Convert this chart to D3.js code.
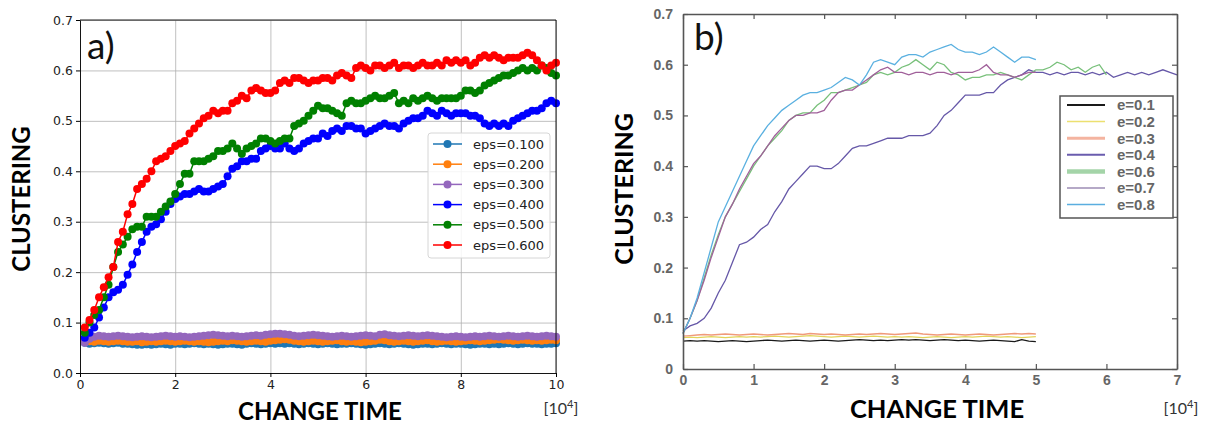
<!DOCTYPE html>
<html lang="en">
<head>
<meta charset="UTF-8">
<title>Clustering vs change time</title>
<script src="https://cdn.jsdelivr.net/npm/d3@7"></script>
<style>
    body { margin: 0; background: #fff; }
    svg { display: block; }
</style>
</head>
<body>
<script>

    // ---- panel a) data, sampled every 0.1 (x in units of 10^4) ----
    var epsLabels = ["eps=0.100", "eps=0.200", "eps=0.300", "eps=0.400", "eps=0.500", "eps=0.600"];
    var epsColors = ["#1f77b4", "#ff7f0e", "#9467bd", "#0000ff", "#008000", "#ff0000"];

    var eps1 = [0.060,0.058,0.059,0.060,0.059,0.058,0.059,0.060,0.058,0.058,
        0.057,0.056,0.056,0.057,0.056,0.057,0.058,0.057,0.056,0.058,
        0.058,0.057,0.058,0.059,0.058,0.057,0.058,0.057,0.056,0.057,
        0.058,0.058,0.057,0.056,0.058,0.059,0.058,0.057,0.058,0.059,
        0.058,0.059,0.058,0.059,0.058,0.057,0.058,0.059,0.058,0.057,
        0.058,0.059,0.058,0.057,0.058,0.058,0.059,0.058,0.057,0.056,
        0.057,0.058,0.059,0.058,0.057,0.058,0.059,0.058,0.057,0.056,
        0.057,0.058,0.058,0.057,0.058,0.059,0.058,0.057,0.058,0.058,
        0.057,0.056,0.057,0.058,0.058,0.057,0.058,0.057,0.058,0.059,
        0.058,0.057,0.058,0.059,0.058,0.058,0.057,0.058,0.058,0.059];
    var eps2 = [0.062,0.063,0.062,0.064,0.063,0.062,0.063,0.064,0.063,0.062,
        0.062,0.063,0.061,0.062,0.063,0.062,0.063,0.064,0.063,0.062,
        0.063,0.064,0.063,0.062,0.063,0.062,0.061,0.062,0.063,0.064,
        0.063,0.065,0.064,0.063,0.062,0.063,0.064,0.063,0.062,0.064,
        0.065,0.066,0.067,0.066,0.064,0.063,0.062,0.063,0.064,0.063,
        0.062,0.063,0.064,0.065,0.063,0.062,0.063,0.062,0.061,0.062,
        0.063,0.064,0.066,0.065,0.063,0.062,0.063,0.064,0.063,0.062,
        0.063,0.064,0.065,0.063,0.062,0.063,0.064,0.063,0.062,0.063,
        0.064,0.065,0.064,0.063,0.064,0.065,0.066,0.067,0.066,0.065,
        0.064,0.065,0.066,0.065,0.064,0.065,0.064,0.065,0.066,0.065];
    var eps3 = [0.060,0.068,0.072,0.074,0.073,0.072,0.073,0.074,0.073,0.072,
        0.071,0.072,0.073,0.072,0.071,0.072,0.073,0.074,0.073,0.072,
        0.073,0.072,0.071,0.072,0.073,0.074,0.075,0.076,0.075,0.074,
        0.073,0.074,0.073,0.072,0.073,0.074,0.075,0.074,0.076,0.077,
        0.078,0.078,0.077,0.076,0.074,0.073,0.074,0.075,0.076,0.075,
        0.074,0.073,0.072,0.073,0.074,0.073,0.072,0.073,0.074,0.075,
        0.074,0.073,0.076,0.077,0.075,0.074,0.073,0.074,0.075,0.074,
        0.073,0.074,0.075,0.074,0.073,0.072,0.071,0.072,0.073,0.072,
        0.071,0.072,0.073,0.072,0.073,0.074,0.073,0.072,0.073,0.074,
        0.073,0.072,0.073,0.074,0.073,0.072,0.073,0.074,0.073,0.072];
    var eps4 = [0.07,0.08,0.09,0.11,0.13,0.15,0.16,0.165,0.175,0.195,
        0.215,0.24,0.26,0.28,0.29,0.295,0.305,0.32,0.335,0.345,
        0.35,0.355,0.355,0.36,0.365,0.36,0.36,0.365,0.37,0.375,
        0.39,0.405,0.41,0.42,0.42,0.425,0.425,0.44,0.445,0.45,
        0.445,0.445,0.455,0.445,0.44,0.445,0.455,0.46,0.465,0.465,
        0.475,0.47,0.48,0.485,0.48,0.49,0.49,0.485,0.485,0.475,
        0.48,0.485,0.49,0.495,0.49,0.49,0.485,0.495,0.50,0.505,
        0.505,0.51,0.52,0.515,0.51,0.52,0.515,0.51,0.515,0.515,
        0.515,0.51,0.51,0.505,0.495,0.49,0.495,0.49,0.495,0.49,
        0.50,0.505,0.51,0.515,0.52,0.52,0.525,0.535,0.54,0.535];
    var eps5 = [0.08,0.10,0.115,0.125,0.15,0.175,0.21,0.24,0.255,0.27,
        0.285,0.29,0.29,0.31,0.31,0.31,0.32,0.33,0.34,0.355,
        0.375,0.395,0.395,0.42,0.42,0.42,0.425,0.43,0.44,0.44,
        0.445,0.455,0.445,0.435,0.445,0.45,0.455,0.465,0.465,0.46,
        0.455,0.46,0.465,0.465,0.49,0.495,0.50,0.51,0.52,0.53,
        0.525,0.525,0.52,0.515,0.51,0.535,0.54,0.535,0.535,0.54,
        0.545,0.55,0.545,0.545,0.55,0.555,0.535,0.54,0.535,0.545,
        0.54,0.545,0.55,0.545,0.54,0.545,0.545,0.545,0.545,0.55,
        0.56,0.56,0.555,0.56,0.57,0.575,0.58,0.585,0.59,0.59,
        0.595,0.60,0.605,0.60,0.605,0.60,0.61,0.605,0.595,0.59];
    var eps6 = [0.09,0.105,0.125,0.15,0.17,0.19,0.21,0.26,0.28,0.315,
        0.335,0.365,0.375,0.385,0.40,0.42,0.425,0.43,0.44,0.45,
        0.455,0.46,0.475,0.485,0.495,0.505,0.51,0.52,0.515,0.52,
        0.52,0.535,0.54,0.55,0.545,0.56,0.565,0.56,0.555,0.555,
        0.56,0.575,0.58,0.575,0.585,0.585,0.58,0.575,0.58,0.58,
        0.585,0.585,0.58,0.59,0.595,0.59,0.585,0.605,0.61,0.605,
        0.60,0.61,0.61,0.605,0.61,0.615,0.605,0.61,0.61,0.605,
        0.61,0.615,0.61,0.61,0.615,0.61,0.62,0.615,0.62,0.615,
        0.62,0.61,0.615,0.625,0.63,0.625,0.63,0.625,0.62,0.625,
        0.625,0.625,0.63,0.635,0.63,0.62,0.61,0.60,0.61,0.615];

    // ---- panel b) data, sampled every 0.1 from 0 ----
    var eLabels = ["e=0.1", "e=0.2", "e=0.3", "e=0.4", "e=0.6", "e=0.7", "e=0.8"];
    var eColors = ["#1a1a1a", "#e2d45a", "#f09a7a", "#6658a8", "#78c07a", "#a0609a", "#5ab0e0"];
    var eLegendColors = ["#1a1a1a", "#ece070", "#f4b4a0", "#6a5cae", "#a4d4a8", "#9c8cb4", "#5aaee0"];
    var eLegendWidths = [2, 1.5, 3, 2, 4.5, 1.5, 1.5];

    var e1 = [0.055,0.056,0.055,0.056,0.055,0.054,0.055,0.056,0.055,0.054,
        0.055,0.056,0.057,0.056,0.055,0.056,0.057,0.056,0.055,0.056,
        0.057,0.056,0.055,0.056,0.057,0.058,0.057,0.056,0.057,0.056,
        0.057,0.058,0.057,0.058,0.057,0.056,0.057,0.058,0.057,0.056,
        0.057,0.056,0.055,0.056,0.057,0.056,0.055,0.054,0.058,0.055,
        0.054];
    var e2 = [0.062,0.063,0.062,0.063,0.064,0.063,0.062,0.063,0.064,0.063,
        0.064,0.063,0.064,0.065,0.064,0.063,0.064,0.065,0.066,0.065,
        0.064,0.063,0.064,0.065,0.064,0.063,0.064,0.065,0.064,0.063,
        0.064,0.063,0.064,0.063,0.062,0.063,0.064,0.063,0.062,0.063,
        0.064,0.063,0.064,0.065,0.064,0.063,0.064,0.063,0.062,0.063,
        0.064];
    var e3 = [0.065,0.066,0.067,0.068,0.067,0.068,0.069,0.068,0.067,0.068,
        0.069,0.068,0.067,0.068,0.069,0.070,0.069,0.068,0.070,0.069,
        0.068,0.069,0.068,0.067,0.068,0.069,0.068,0.069,0.070,0.069,
        0.068,0.069,0.070,0.071,0.069,0.068,0.067,0.068,0.069,0.068,
        0.067,0.068,0.069,0.068,0.067,0.068,0.069,0.070,0.069,0.070,
        0.069];
    var e4 = [0.075,0.085,0.09,0.10,0.12,0.15,0.175,0.21,0.245,0.25,
        0.26,0.275,0.285,0.31,0.33,0.355,0.37,0.385,0.40,0.40,
        0.395,0.395,0.405,0.42,0.435,0.44,0.44,0.445,0.45,0.455,
        0.455,0.455,0.46,0.46,0.46,0.465,0.48,0.50,0.51,0.525,
        0.54,0.54,0.54,0.545,0.545,0.56,0.57,0.575,0.58,0.59,
        0.585,0.585,0.58,0.585,0.58,0.585,0.585,0.58,0.585,0.58,
        0.585,0.575,0.58,0.585,0.58,0.585,0.58,0.585,0.59,0.585,
        0.58];
    var e6 = [0.07,0.10,0.135,0.18,0.225,0.265,0.30,0.325,0.35,0.375,
        0.40,0.42,0.44,0.455,0.47,0.49,0.50,0.505,0.505,0.52,
        0.53,0.545,0.545,0.55,0.555,0.56,0.565,0.58,0.585,0.58,
        0.585,0.595,0.60,0.61,0.60,0.59,0.605,0.60,0.585,0.58,
        0.57,0.575,0.575,0.58,0.58,0.585,0.58,0.575,0.57,0.58,
        0.59,0.59,0.595,0.605,0.60,0.59,0.595,0.585,0.595,0.60,
        0.58];
    var e7 = [0.07,0.10,0.135,0.175,0.22,0.26,0.30,0.325,0.355,0.38,
        0.405,0.42,0.44,0.46,0.475,0.49,0.50,0.50,0.505,0.505,
        0.51,0.53,0.545,0.55,0.55,0.56,0.57,0.58,0.59,0.595,
        0.585,0.585,0.58,0.585,0.585,0.58,0.585,0.585,0.58,0.585,
        0.585,0.585,0.59,0.60,0.585,0.58,0.58,0.575,0.58,0.585,
        0.585];
    var e8 = [0.07,0.10,0.14,0.19,0.24,0.29,0.32,0.35,0.38,0.41,
        0.44,0.46,0.48,0.495,0.51,0.52,0.53,0.54,0.545,0.545,
        0.55,0.555,0.565,0.575,0.57,0.56,0.58,0.605,0.61,0.605,
        0.60,0.615,0.62,0.62,0.615,0.625,0.63,0.635,0.64,0.63,
        0.625,0.625,0.62,0.625,0.635,0.625,0.615,0.605,0.615,0.615,
        0.61];

    var yTicks = [0, 0.1, 0.2, 0.3, 0.4, 0.5, 0.6, 0.7];
    var xTicksA = [0, 2, 4, 6, 8, 10];
    var xTicksB = [0, 1, 2, 3, 4, 5, 6, 7];

    var svg = d3.select("body").append("svg")
            .attr("width", 1205)
            .attr("height", 424);

    //=================== panel a) (matplotlib look) ===================
    var xA = d3.scaleLinear().domain([0, 10]).range([80, 556]);
    var yA = d3.scaleLinear().domain([0, 0.7]).range([373, 20]);

    var gA = svg.append("g");

    // grid
    gA.append("g")
            .attr("transform", "translate(0,373)")
            .call(d3.axisBottom(xA).tickValues(xTicksA).tickSize(-353).tickFormat(""))
            .call(function (g) { g.select(".domain").remove(); })
            .selectAll("line").attr("stroke", "#b0b0b0").attr("stroke-width", 0.8);
    gA.append("g")
            .attr("transform", "translate(80,0)")
            .call(d3.axisLeft(yA).tickValues(yTicks).tickSize(-476).tickFormat(""))
            .call(function (g) { g.select(".domain").remove(); })
            .selectAll("line").attr("stroke", "#b0b0b0").attr("stroke-width", 0.8);

    var lineA = d3.line()
            .x(function (d, i) { return xA((i + 1) / 10); })
            .y(function (d) { return yA(d); });

    var seriesA = [eps1, eps2, eps3, eps4, eps5, eps6];
    seriesA.forEach(function (s, k) {
        var g = gA.append("g");
        g.append("path")
                .attr("d", lineA(s))
                .attr("fill", "none")
                .attr("stroke", epsColors[k])
                .attr("stroke-width", 1.5);
        g.selectAll("circle")
                .data(s)
                .enter()
                .append("circle")
                .attr("cx", function (d, i) { return xA((i + 1) / 10); })
                .attr("cy", function (d) { return yA(d); })
                .attr("r", 4)
                .attr("fill", epsColors[k]);
    });

    // spines + ticks
    var axA = gA.append("g")
            .attr("transform", "translate(0,373)")
            .call(d3.axisBottom(xA).tickValues(xTicksA).tickSize(4).tickSizeOuter(0).tickPadding(3));
    var ayA = gA.append("g")
            .attr("transform", "translate(80,0)")
            .call(d3.axisLeft(yA).tickValues(yTicks).tickSize(4).tickSizeOuter(0).tickPadding(3)
                    .tickFormat(d3.format(".1f")));
    gA.append("line").attr("x1", 80).attr("x2", 556).attr("y1", 20).attr("y2", 20)
            .attr("stroke", "#000").attr("stroke-width", 0.9);
    gA.append("line").attr("x1", 556).attr("x2", 556).attr("y1", 20).attr("y2", 373)
            .attr("stroke", "#000").attr("stroke-width", 0.9);
    [axA, ayA].forEach(function (a) {
        a.selectAll("text")
                .attr("font-family", "DejaVu Sans")
                .attr("font-size", 12.5)
                .attr("fill", "#222");
        a.select(".domain").attr("stroke-width", 0.9);
    });

    // legend
    var legA = gA.append("g").attr("transform", "translate(428,133)");
    legA.append("rect")
            .attr("width", 122).attr("height", 125)
            .attr("rx", 3)
            .attr("fill", "#fff").attr("fill-opacity", 0.85)
            .attr("stroke", "#d6d6d6");
    epsLabels.forEach(function (lab, k) {
        var row = legA.append("g").attr("transform", "translate(0," + (11 + k * 20.2) + ")");
        row.append("line").attr("x1", 5).attr("x2", 34)
                .attr("stroke", epsColors[k]).attr("stroke-width", 1.5);
        row.append("circle").attr("cx", 19.5).attr("r", 4).attr("fill", epsColors[k]);
        row.append("text").attr("x", 45).attr("y", 0).attr("dy", "0.36em")
                .attr("font-family", "DejaVu Sans").attr("font-size", 13).attr("fill", "#222")
                .text(lab);
    });

    gA.append("text").attr("x", 87).attr("y", 59)
            .attr("font-family", "Lato").attr("font-size", 37).attr("fill", "#111")
            .text("a)");

    //=================== panel b) (MATLAB look) ===================
    var xB = d3.scaleLinear().domain([0, 7]).range([683, 1177]);
    var yB = d3.scaleLinear().domain([0, 0.7]).range([369, 14]);

    var gB = svg.append("g");

    var lineB = d3.line()
            .x(function (d, i) { return xB(i / 10); })
            .y(function (d) { return yB(d); });

    var seriesB = [e1, e2, e3, e4, e6, e7, e8];
    seriesB.forEach(function (s, k) {
        gB.append("path")
                .attr("d", lineB(s))
                .attr("fill", "none")
                .attr("stroke", eColors[k])
                .attr("stroke-width", 1.3);
    });

    // frame with inward ticks on all sides
    var frameColor = "#555";
    var bx = gB.append("g").attr("transform", "translate(0,369)")
            .call(d3.axisBottom(xB).tickValues(xTicksB).tickSizeInner(-5).tickSizeOuter(0).tickPadding(6)
                    .tickFormat(d3.format("d")));
    gB.append("g").attr("transform", "translate(0,14)")
            .call(d3.axisTop(xB).tickValues(xTicksB).tickSizeInner(-5).tickSizeOuter(0).tickFormat(""));
    var by = gB.append("g").attr("transform", "translate(683,0)")
            .call(d3.axisLeft(yB).tickValues(yTicks).tickSizeInner(-5).tickSizeOuter(0).tickPadding(10)
                    .tickFormat(function (d) { return d === 0 ? "0" : d3.format(".1f")(d); }));
    gB.append("g").attr("transform", "translate(1177,0)")
            .call(d3.axisRight(yB).tickValues(yTicks).tickSizeInner(-5).tickSizeOuter(0).tickFormat(""));
    gB.selectAll(".domain").attr("stroke", frameColor).attr("stroke-width", 1.6);
    gB.selectAll(".tick line").attr("stroke", frameColor).attr("stroke-width", 1.2);
    [bx, by].forEach(function (a) {
        a.selectAll("text")
                .attr("font-family", "Liberation Sans")
                .attr("font-weight", "bold")
                .attr("font-size", 14)
                .attr("fill", "#666");
    });

    // legend
    var legB = gB.append("g").attr("transform", "translate(1060,96)");
    legB.append("rect")
            .attr("width", 113).attr("height", 122)
            .attr("fill", "#fff")
            .attr("stroke", frameColor).attr("stroke-width", 1.5);
    eLabels.forEach(function (lab, k) {
        var row = legB.append("g").attr("transform", "translate(0," + (9 + k * 16.6) + ")");
        row.append("line").attr("x1", 7).attr("x2", 45)
                .attr("stroke", eLegendColors[k]).attr("stroke-width", eLegendWidths[k]);
        row.append("text").attr("x", 57).attr("y", 0).attr("dy", "0.36em")
                .attr("font-family", "Liberation Sans").attr("font-weight", "bold")
                .attr("font-size", 15).attr("fill", "#666")
                .text(lab);
    });

    gB.append("text").attr("x", 694).attr("y", 50)
            .attr("font-family", "Lato").attr("font-size", 37).attr("fill", "#111")
            .text("b)");

    //=================== axis titles ===================
    var titles = [
        {x: 320, y: 420, size: 24, text: "CHANGE TIME"},
        {x: 937, y: 418, size: 25.5, text: "CHANGE TIME"}
    ];
    titles.forEach(function (t) {
        svg.append("text")
                .attr("x", t.x).attr("y", t.y)
                .attr("text-anchor", "middle")
                .attr("font-family", "Lato").attr("font-weight", "bold")
                .attr("font-size", t.size).attr("fill", "#000")
                .text(t.text);
    });
    var yTitles = [
        {x: 21.5, y: 199, size: 24},
        {x: 624, y: 189, size: 25}
    ];
    yTitles.forEach(function (t) {
        svg.append("text")
                .attr("transform", "translate(" + t.x + "," + t.y + ") rotate(-90)")
                .attr("text-anchor", "middle")
                .attr("dy", "0.36em")
                .attr("font-family", "Lato").attr("font-weight", "bold")
                .attr("font-size", t.size).attr("fill", "#000")
                .text("CLUSTERING");
    });

    // [10^4] unit labels
    [{x: 561, y: 414}, {x: 1181, y: 414}].forEach(function (u) {
        var t = svg.append("text")
                .attr("x", u.x).attr("y", u.y)
                .attr("text-anchor", "middle")
                .attr("font-family", "Lato").attr("font-size", 16).attr("fill", "#333");
        t.append("tspan").text("[10");
        t.append("tspan").attr("dy", -6).attr("font-size", 11).text("4");
        t.append("tspan").attr("dy", 6).text("]");
    });

</script>
</body>
</html>
